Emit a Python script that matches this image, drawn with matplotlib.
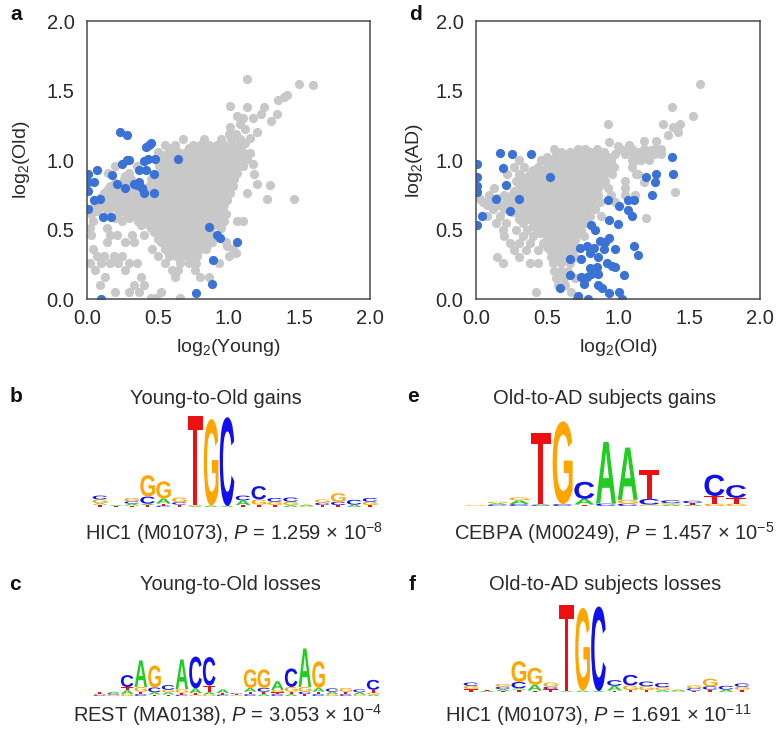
import matplotlib
matplotlib.use("Agg")
import matplotlib.pyplot as plt
from matplotlib.textpath import TextPath
from matplotlib.patches import PathPatch
from matplotlib.font_manager import FontProperties
from matplotlib.transforms import Affine2D

plt.rcParams['font.family'] = ['Liberation Sans', 'DejaVu Sans']
plt.rcParams['mathtext.fontset'] = 'custom'
plt.rcParams['mathtext.rm'] = 'Liberation Sans'
plt.rcParams['mathtext.it'] = 'Liberation Sans:italic'

# ---------------- scatter data ----------------
# grey cloud of panel a, as rows: (y, [x, ...])
grey_a_rows = [
    (1.19, [1.0, 1.05]),
    (1.15, [0.68, 0.83, 0.95, 1.02, 1.08]),
    (1.11, [0.55, 0.62, 0.75, 0.8, 0.86, 0.92, 0.97, 1.03, 1.08]),
    (1.085, [0.6, 0.72, 0.78, 0.83, 0.88, 0.94, 0.99, 1.05]),
    (1.06, [0.5, 0.58, 0.64, 0.7, 0.75, 0.81, 0.86, 0.91, 0.96, 1.01, 1.06, 1.1]),
    (1.035, [0.55, 0.6, 0.67, 0.72, 0.77, 0.83, 0.88, 0.93, 0.98, 1.03, 1.08]),
    (1.01, [0.52, 0.57, 0.62, 0.69, 0.74, 0.79, 0.84, 0.89, 0.94, 0.99, 1.04, 1.09, 1.13]),
    (0.985, [0.54, 0.59, 0.64, 0.69, 0.74, 0.79, 0.84, 0.89, 0.94, 0.99, 1.04, 1.08]),
    (0.96, [0.2, 0.35, 0.51, 0.56, 0.61, 0.66, 0.71, 0.76, 0.81, 0.86, 0.91, 0.96, 1.01, 1.06, 1.1]),
    (0.935, [0.54, 0.59, 0.64, 0.69, 0.74, 0.79, 0.84, 0.89, 0.94, 0.99, 1.04]),
    (0.91, [0.15, 0.3, 0.52, 0.57, 0.62, 0.67, 0.72, 0.77, 0.82, 0.87, 0.92, 0.97, 1.02, 1.06]),
    (0.885, [0.27, 0.47, 0.52, 0.57, 0.62, 0.67, 0.72, 0.77, 0.82, 0.87, 0.92, 0.97, 1.02]),
    (0.86, [0.26, 0.31, 0.45, 0.5, 0.55, 0.6, 0.65, 0.7, 0.75, 0.8, 0.85, 0.9, 0.95, 1.0, 1.04]),
    (0.835, [0.2, 0.27, 0.46, 0.51, 0.56, 0.61, 0.66, 0.71, 0.76, 0.81, 0.86, 0.91, 0.96, 1.01]),
    (0.81, [0.16, 0.24, 0.3, 0.44, 0.49, 0.54, 0.59, 0.64, 0.69, 0.74, 0.79, 0.84, 0.89, 0.94, 0.99, 1.03]),
    (0.785, [0.14, 0.2, 0.26, 0.32, 0.46, 0.5, 0.55, 0.6, 0.65, 0.7, 0.75, 0.8, 0.85, 0.9, 0.95, 1.0]),
    (0.76, [0.12, 0.18, 0.23, 0.28, 0.33, 0.36, 0.44, 0.52, 0.57, 0.62, 0.67, 0.72, 0.77, 0.82, 0.87,
            0.92, 0.97, 1.01]),
    (0.735, [0.1, 0.16, 0.21, 0.26, 0.31, 0.36, 0.41, 0.47, 0.52, 0.57, 0.62, 0.67, 0.72, 0.77, 0.82,
             0.87, 0.92, 0.97]),
    (0.71, [0.06, 0.14, 0.19, 0.24, 0.29, 0.34, 0.39, 0.44, 0.49, 0.54, 0.59, 0.64, 0.69, 0.74, 0.79,
            0.84, 0.89, 0.94, 0.99]),
    (0.685, [0.08, 0.13, 0.17, 0.22, 0.27, 0.32, 0.37, 0.42, 0.47, 0.52, 0.57, 0.62, 0.67, 0.72, 0.77,
             0.82, 0.87, 0.92, 0.97]),
    (0.66, [0.05, 0.1, 0.2, 0.25, 0.3, 0.35, 0.4, 0.45, 0.5, 0.55, 0.6, 0.65, 0.7, 0.75, 0.8, 0.85,
            0.9, 0.96]),
    (0.635, [0.07, 0.15, 0.24, 0.3, 0.35, 0.4, 0.45, 0.5, 0.55, 0.6, 0.65, 0.7, 0.75, 0.8, 0.85, 0.9,
             0.95]),
    (0.61, [0.03, 0.22, 0.28, 0.33, 0.38, 0.43, 0.48, 0.53, 0.58, 0.63, 0.68, 0.73, 0.78, 0.83, 0.88,
            0.93, 0.98]),
    (0.585, [0.2, 0.3, 0.35, 0.4, 0.45, 0.5, 0.55, 0.6, 0.65, 0.7, 0.75, 0.8, 0.85, 0.9, 0.95]),
    (0.56, [0.04, 0.25, 0.36, 0.42, 0.47, 0.52, 0.57, 0.62, 0.67, 0.72, 0.77, 0.82, 0.87, 0.92, 0.97]),
    (0.535, [0.38, 0.44, 0.49, 0.54, 0.59, 0.64, 0.69, 0.74, 0.79, 0.84, 0.9]),
    (0.51, [0.02, 0.14, 0.45, 0.5, 0.55, 0.6, 0.65, 0.7, 0.75, 0.8, 0.84, 0.95]),
    (0.485, [0.47, 0.52, 0.57, 0.62, 0.67, 0.72, 0.77, 0.82, 0.87]),
    (0.46, [0.03, 0.16, 0.21, 0.32, 0.4, 0.5, 0.55, 0.6, 0.65, 0.7, 0.75, 0.8, 0.86]),
    (0.435, [0.5, 0.55, 0.6, 0.65, 0.7, 0.75, 0.8, 0.85]),
    (0.41, [0.14, 0.27, 0.33, 0.52, 0.57, 0.62, 0.67, 0.72, 0.77, 0.82, 0.88, 0.98]),
    (0.385, [0.55, 0.6, 0.65, 0.7, 0.75, 0.8, 0.85]),
    (0.36, [0.04, 0.46, 0.55, 0.6, 0.65, 0.7, 0.75, 0.8, 0.84, 1.03]),
    (0.335, [0.57, 0.62, 0.67, 0.72, 0.77]),
    (0.31, [0.07, 0.12, 0.19, 0.25, 0.5, 0.58, 0.63, 0.68, 0.73, 0.78, 1.0]),
    (0.26, [0.02, 0.1, 0.16, 0.22, 0.3, 0.35, 0.55, 0.66, 0.72, 0.77, 0.93]),
    (0.21, [0.06, 0.27, 0.6, 0.64, 0.76]),
    (0.16, [0.13, 0.38, 0.62, 0.8, 0.86]),
    (0.10, [0.09, 0.33, 0.4]),
    (0.05, [0.2, 0.3, 0.37, 0.52]),
    (0.01, [0.45, 0.49, 0.66]),
]
grey_a_extra = [(1.13, 1.58), (1.5, 1.55), (1.6, 1.54), (1.41, 1.47), (1.35, 1.43), (1.39, 1.45),
                (1.01, 1.39), (1.13, 1.38), (1.25, 1.38), (1.34, 1.33), (1.06, 1.32), (1.17, 1.30),
                (1.08, 1.26), (1.01, 1.24), (1.2, 1.2), (1.12, 1.22), (1.15, 1.16), (1.1, 1.3),
                (1.23, 1.33), (1.3, 1.28), (1.17, 0.97), (1.18, 0.9), (1.2, 0.83), (1.29, 0.82),
                (1.27, 0.72), (1.46, 0.72), (1.13, 0.76), (1.15, 1.05), (1.12, 1.12), (1.06, 0.56),
                (1.1, 0.56), (0.99, 0.38), (1.05, 0.33)]
blue_a = [(0.23, 1.20), (0.28, 1.18), (0.42, 1.09), (0.44, 1.11), (0.45, 1.12), (0.28, 1.0),
          (0.25, 0.97), (0.3, 1.0), (0.40, 0.99), (0.43, 1.01), (0.48, 1.01), (0.64, 1.01),
          (0.37, 0.93), (0.42, 0.93), (0.47, 0.9), (0.07, 0.93), (0.01, 0.9), (0.01, 0.84),
          (0.05, 0.84), (0.01, 0.78), (0.18, 0.89), (0.21, 0.83), (0.27, 0.8), (0.33, 0.83),
          (0.35, 0.82), (0.37, 0.84), (0.39, 0.8), (0.4, 0.76), (0.47, 0.76), (0.05, 0.71),
          (0.09, 0.72), (0.01, 0.65), (0.11, 0.59), (0.17, 0.59), (0.86, 0.52), (0.92, 0.46),
          (0.94, 0.44), (1.06, 0.41), (0.89, 0.28), (0.88, 0.11), (0.77, 0.04), (0.1, 0.0)]

grey_d_rows = [
    (1.08, [0.55, 0.72, 0.77, 0.85, 1.02, 1.1, 1.18, 1.26]),
    (1.06, [0.6, 0.66, 0.8, 0.9, 1.06, 1.14, 1.22]),
    (1.04, [0.56, 0.62, 0.7, 0.75, 0.8, 0.85, 0.9, 0.98, 1.05, 1.12, 1.2, 1.25, 1.3]),
    (1.02, [0.5, 0.58, 0.63, 0.68, 0.73, 0.78, 0.83, 0.88, 0.93, 1.14, 1.2]),
    (1.00, [0.3, 0.46, 0.55, 0.6, 0.65, 0.7, 0.75, 0.8, 0.85, 0.9, 0.95, 1.1, 1.16, 1.22]),
    (0.975, [0.5, 0.55, 0.6, 0.65, 0.7, 0.75, 0.8, 0.85, 0.9, 0.95]),
    (0.95, [0.27, 0.34, 0.44, 0.52, 0.57, 0.62, 0.67, 0.72, 0.77, 0.82, 0.87, 0.92, 0.97, 1.1]),
    (0.925, [0.4, 0.48, 0.54, 0.59, 0.64, 0.69, 0.74, 0.79, 0.84, 0.89, 0.94]),
    (0.90, [0.22, 0.3, 0.38, 0.45, 0.5, 0.55, 0.6, 0.65, 0.7, 0.75, 0.8, 0.85, 0.9, 0.96, 1.14]),
    (0.875, [0.33, 0.42, 0.48, 0.53, 0.58, 0.63, 0.68, 0.73, 0.78, 0.83, 0.88]),
    (0.85, [0.28, 0.35, 0.41, 0.46, 0.51, 0.56, 0.61, 0.66, 0.71, 0.76, 0.81, 0.86, 0.91, 1.05]),
    (0.825, [0.33, 0.38, 0.43, 0.48, 0.53, 0.58, 0.63, 0.68, 0.73, 0.78, 0.83, 0.88]),
    (0.80, [0.13, 0.3, 0.36, 0.41, 0.46, 0.51, 0.56, 0.61, 0.66, 0.71, 0.76, 0.81, 0.86, 0.93]),
    (0.775, [0.27, 0.32, 0.38, 0.43, 0.48, 0.53, 0.58, 0.63, 0.68, 0.73, 0.78, 0.83]),
    (0.75, [0.09, 0.2, 0.25, 0.34, 0.4, 0.45, 0.5, 0.55, 0.6, 0.65, 0.7, 0.75, 0.8, 0.86, 0.95, 1.05]),
    (0.725, [0.15, 0.23, 0.28, 0.33, 0.38, 0.43, 0.48, 0.53, 0.58, 0.63, 0.68, 0.73, 0.78, 0.84]),
    (0.70, [0.05, 0.1, 0.21, 0.26, 0.31, 0.36, 0.41, 0.46, 0.51, 0.56, 0.61, 0.66, 0.71, 0.76, 0.81,
            0.87, 0.98]),
    (0.675, [0.08, 0.16, 0.24, 0.3, 0.35, 0.4, 0.45, 0.5, 0.55, 0.6, 0.65, 0.7, 0.75, 0.8]),
    (0.65, [0.12, 0.2, 0.28, 0.33, 0.38, 0.43, 0.48, 0.53, 0.58, 0.63, 0.68, 0.73, 0.78, 0.84]),
    (0.625, [0.25, 0.32, 0.37, 0.42, 0.47, 0.52, 0.57, 0.62, 0.67, 0.72, 0.77]),
    (0.60, [0.08, 0.17, 0.3, 0.35, 0.4, 0.45, 0.5, 0.55, 0.6, 0.65, 0.7, 0.75, 0.8, 0.88]),
    (0.575, [0.3, 0.37, 0.44, 0.49, 0.54, 0.59, 0.64, 0.69, 0.74]),
    (0.55, [0.14, 0.21, 0.33, 0.42, 0.47, 0.52, 0.57, 0.62, 0.67, 0.72, 0.77]),
    (0.525, [0.4, 0.46, 0.51, 0.56, 0.61, 0.66, 0.71]),
    (0.50, [0.19, 0.28, 0.36, 0.43, 0.49, 0.54, 0.59, 0.64, 0.69, 0.74]),
    (0.475, [0.45, 0.52, 0.57, 0.62, 0.67, 0.72]),
    (0.45, [0.2, 0.33, 0.4, 0.5, 0.55, 0.6, 0.65, 0.7, 0.76]),
    (0.425, [0.5, 0.55, 0.6, 0.65, 0.7]),
    (0.40, [0.24, 0.3, 0.38, 0.47, 0.53, 0.58, 0.63, 0.68]),
    (0.375, [0.5, 0.55, 0.6, 0.65]),
    (0.35, [0.27, 0.35, 0.44, 0.52, 0.57, 0.62, 0.68]),
    (0.325, [0.55, 0.6, 0.65]),
    (0.30, [0.15, 0.3, 0.53, 0.58, 0.63, 0.7]),
    (0.28, [0.56, 0.62]),
    (0.26, [0.19, 0.38, 0.44, 0.54, 0.6, 0.66]),
    (0.20, [0.55, 0.6, 0.65]),
    (0.15, [0.56, 0.62, 0.7]),
    (0.10, [0.58, 0.63]),
    (0.05, [0.42, 0.67]),
]
grey_d_extra = [(0.93, 1.26), (0.94, 1.13), (1.08, 1.11), (1.18, 1.14), (1.27, 1.14), (1.32, 1.26),
                (1.39, 1.24), (1.44, 1.26), (1.38, 1.38), (1.53, 1.32), (1.58, 1.55), (1.3, 1.08),
                (1.23, 1.07), (1.18, 1.02), (1.13, 1.0), (1.35, 1.18), (1.0, 1.1), (1.42, 1.2),
                (1.40, 0.77), (1.2, 0.58), (1.18, 0.84), (1.13, 0.9), (1.05, 0.8), (1.12, 0.75),
                (0.03, 0.72)]
blue_d = [(0.17, 1.05), (0.25, 1.04), (0.39, 1.04), (0.01, 0.97), (0.01, 0.88), (0.01, 0.81),
          (0.01, 0.77), (0.19, 0.94), (0.21, 0.82), (0.14, 0.72), (0.30, 0.72), (0.24, 0.63),
          (0.04, 0.6), (0.01, 0.53), (0.52, 0.88), (1.38, 1.02), (1.39, 0.9), (1.27, 0.9),
          (1.2, 0.88), (1.26, 0.84), (1.24, 0.75), (0.93, 0.71), (1.07, 0.71), (1.11, 0.71),
          (1.01, 0.67), (1.07, 0.64), (1.1, 0.6), (0.94, 0.57), (1.0, 0.54), (0.81, 0.53),
          (0.84, 0.5), (0.87, 0.42), (0.91, 0.41), (0.94, 0.44), (0.73, 0.37), (0.78, 0.38),
          (0.83, 0.37), (0.8, 0.33), (0.9, 0.36), (0.98, 0.36), (1.11, 0.38), (1.14, 0.32),
          (0.66, 0.29), (0.74, 0.29), (0.86, 0.30), (0.92, 0.26), (0.96, 0.24), (0.98, 0.23),
          (0.8, 0.22), (0.85, 0.23), (0.66, 0.17), (0.74, 0.16), (0.78, 0.16), (0.81, 0.18),
          (0.86, 0.18), (1.04, 0.17), (0.59, 0.08), (0.76, 0.11), (0.86, 0.1), (0.89, 0.08),
          (0.94, 0.04), (1.01, 0.05), (0.71, 0.0), (0.79, 0.0), (1.03, 0.0), (0.72, 0.02)]

ticks = [0.0, 0.5, 1.0, 1.5, 2.0]

# ---------------- logo data: columns, letters bottom-up (letter, bits) ----------------
logo_b = [
    [('T', 0.05), ('A', 0.03), ('G', 0.08), ('C', 0.08)],
    [('T', 0.02), ('A', 0.02)],
    [('T', 0.03), ('A', 0.04), ('C', 0.05), ('G', 0.07)],
    [('T', 0.04), ('A', 0.03), ('C', 0.15), ('G', 0.45)],
    [('C', 0.03), ('T', 0.04), ('A', 0.11), ('G', 0.36)],
    [('T', 0.05), ('C', 0.05), ('G', 0.1)],
    [('A', 0.02), ('G', 0.02), ('T', 1.88)],
    [('A', 0.03), ('G', 1.82)],
    [('A', 0.02), ('C', 1.87)],
    [('T', 0.04), ('A', 0.1), ('C', 0.1)],
    [('T', 0.05), ('G', 0.11), ('C', 0.28)],
    [('T', 0.04), ('G', 0.07), ('C', 0.08)],
    [('A', 0.04), ('G', 0.07), ('C', 0.09)],
    [('G', 0.02), ('A', 0.03)],
    [('T', 0.04), ('C', 0.05), ('G', 0.07)],
    [('T', 0.04), ('C', 0.07), ('G', 0.18)],
    [('A', 0.05), ('C', 0.1)],
    [('T', 0.04), ('G', 0.07), ('C', 0.08)],
]
logo_c = [
    [('C', 0.02), ('G', 0.03), ('T', 0.03)],
    [('G', 0.03), ('C', 0.03), ('A', 0.03)],
    [('G', 0.04), ('A', 0.08), ('T', 0.07), ('C', 0.25)],
    [('C', 0.04), ('T', 0.05), ('G', 0.1), ('A', 0.56)],
    [('T', 0.03), ('A', 0.05), ('C', 0.1), ('G', 0.46)],
    [('T', 0.03), ('A', 0.05), ('G', 0.05), ('C', 0.1)],
    [('C', 0.03), ('T', 0.04), ('G', 0.07), ('A', 0.63)],
    [('G', 0.03), ('T', 0.03), ('A', 0.1), ('C', 0.67)],
    [('G', 0.03), ('A', 0.05), ('T', 0.14), ('C', 0.6)],
    [('C', 0.03), ('T', 0.03), ('A', 0.08)],
    [('G', 0.02), ('T', 0.02), ('C', 0.02)],
    [('C', 0.04), ('T', 0.05), ('A', 0.08), ('G', 0.39)],
    [('A', 0.04), ('T', 0.05), ('C', 0.08), ('G', 0.39)],
    [('C', 0.04), ('T', 0.04), ('G', 0.05), ('A', 0.18)],
    [('A', 0.04), ('T', 0.05), ('G', 0.1), ('C', 0.39)],
    [('T', 0.04), ('C', 0.05), ('G', 0.1), ('A', 0.81)],
    [('C', 0.04), ('T', 0.05), ('A', 0.08), ('G', 0.56)],
    [('G', 0.04), ('A', 0.05), ('C', 0.07)],
    [('C', 0.04), ('T', 0.05), ('G', 0.08)],
    [('G', 0.03), ('A', 0.05), ('C', 0.06)],
    [('A', 0.03), ('G', 0.04), ('T', 0.06), ('C', 0.21)],
]
logo_e = [
    [('G', 0.02)],
    [('C', 0.03), ('A', 0.03), ('G', 0.03)],
    [('C', 0.04), ('A', 0.08), ('G', 0.06)],
    [('C', 0.02), ('A', 0.02), ('T', 1.5)],
    [('C', 0.04), ('G', 1.74)],
    [('T', 0.03), ('A', 0.12), ('C', 0.36)],
    [('C', 0.05), ('A', 1.3)],
    [('C', 0.05), ('G', 0.08), ('A', 1.1)],
    [('G', 0.03), ('C', 0.12), ('T', 0.6)],
    [('A', 0.03), ('G', 0.03), ('C', 0.06)],
    [('A', 0.03), ('T', 0.03), ('C', 0.05)],
    [('G', 0.05), ('T', 0.16), ('C', 0.45)],
    [('G', 0.05), ('T', 0.12), ('C', 0.27)],
]
logo_f = [
    [('T', 0.06), ('G', 0.07), ('C', 0.07)],
    [('A', 0.03), ('T', 0.02)],
    [('T', 0.02), ('A', 0.04), ('C', 0.05), ('G', 0.06)],
    [('T', 0.05), ('A', 0.03), ('C', 0.13), ('G', 0.44)],
    [('T', 0.03), ('A', 0.12), ('G', 0.36)],
    [('T', 0.06), ('C', 0.05), ('G', 0.09)],
    [('A', 0.02), ('T', 1.82)],
    [('A', 0.03), ('G', 1.74)],
    [('A', 0.02), ('C', 1.78)],
    [('T', 0.03), ('A', 0.1), ('C', 0.12)],
    [('T', 0.04), ('G', 0.1), ('C', 0.22)],
    [('T', 0.04), ('G', 0.08), ('C', 0.1)],
    [('A', 0.04), ('G', 0.06), ('C', 0.09)],
    [('G', 0.02), ('A', 0.03)],
    [('T', 0.03), ('C', 0.05), ('G', 0.06)],
    [('T', 0.05), ('C', 0.07), ('G', 0.16)],
    [('A', 0.05), ('C', 0.08)],
    [('T', 0.05), ('G', 0.06), ('C', 0.07)],
]

GREY = '#c8c8c8'
BLUE = '#3a72d5'
LETTER_COLORS = {'A': '#22cc22', 'C': '#1010ee', 'G': '#ffa500', 'T': '#ee1010'}
TEXT = '#2a2a2a'

W, H = 778, 733
fig = plt.figure(figsize=(W / 100, H / 100), dpi=100)


def box(x0, y0, x1, y1):
    # pixel box (y measured from the top) -> figure fraction rect
    return [x0 / W, 1 - y1 / H, (x1 - x0) / W, (y1 - y0) / H]


def ftext(x, y, s, **kw):
    fig.text(x / W, 1 - y / H, s, ha=kw.pop('ha', 'center'), va=kw.pop('va', 'center'), **kw)


def scatter_panel(rect, rows, extra, blue, xlabel, ylabel, ylab_x):
    ax = fig.add_axes(rect)
    gx = [x for y, xs in rows for x in xs] + [p[0] for p in extra]
    gy = [y for y, xs in rows for x in xs] + [p[1] for p in extra]
    ax.scatter(gx, gy, s=44, c=GREY, linewidths=0)
    ax.scatter([p[0] for p in blue], [p[1] for p in blue], s=44, c=BLUE, linewidths=0)
    ax.set_xlim(0, 2)
    ax.set_ylim(0, 2)
    ax.set_xticks(ticks)
    ax.set_yticks(ticks)
    ax.tick_params(length=0, labelsize=14.5, labelcolor=TEXT)
    ax.tick_params(axis='x', pad=7)
    ax.tick_params(axis='y', pad=9)
    for sp in ax.spines.values():
        sp.set_color('#4a4a4a')
        sp.set_linewidth(1.1)
    ax.set_xlabel(xlabel, fontsize=14, color=TEXT, va='center')
    ax.set_ylabel(ylabel, fontsize=14, color=TEXT, va='center')
    ax.xaxis.set_label_coords(0.5, -0.173)
    ax.yaxis.set_label_coords(ylab_x, 0.5)
    return ax


def draw_logo(x0, x1, base, cols):
    ax = fig.add_axes(box(x0, base - 95, x1, base))
    ax.set_xlim(0, len(cols))
    ax.set_ylim(0, 2)
    ax.axis('off')
    prop = FontProperties(family='Liberation Sans', weight='bold')
    for i, col in enumerate(cols):
        y = 0.0
        for letter, h in col:
            tp = TextPath((0, 0), letter, size=1, prop=prop)
            bb = tp.get_extents()
            tr = (Affine2D().translate(-bb.x0, -bb.y0)
                  .scale(0.92 / bb.width, h / bb.height)
                  .translate(i + 0.04, y))
            ax.add_patch(PathPatch(tr.transform_path(tp), fc=LETTER_COLORS[letter],
                                   ec='none'))
            y += h
    return ax


scatter_panel(box(87, 21, 370, 299), grey_a_rows, grey_a_extra, blue_a,
              r'log$_2$(Young)', r'log$_2$(Old)', -0.23)
scatter_panel(box(476, 21, 760, 299), grey_d_rows, grey_d_extra, blue_d,
              r'log$_2$(Old)', r'log$_2$(AD)', -0.215)

draw_logo(92, 378, 507, logo_b)
draw_logo(93, 380, 696, logo_c)
draw_logo(465, 747, 506, logo_e)
draw_logo(463, 750, 692, logo_f)

# panel letters
for lab, x, y in [('a', 16, 15), ('d', 415, 15), ('b', 16, 397), ('e', 413, 397),
                  ('c', 15, 585), ('f', 412, 585)]:
    ftext(x, y, lab, fontsize=15, fontweight='bold', color='#111111')

# logo titles
ftext(216, 398, 'Young-to-Old gains', fontsize=14.5, color=TEXT)
ftext(605, 398, 'Old-to-AD subjects gains', fontsize=14.5, color=TEXT)
ftext(230, 585, 'Young-to-Old losses', fontsize=14.5, color=TEXT)
ftext(605, 585, 'Old-to-AD subjects losses', fontsize=14.5, color=TEXT)

# captions
ftext(234, 533, r'HIC1 (M01073), $P$ = 1.259 × 10$^{-8}$', fontsize=14.5, color=TEXT)
ftext(614, 533, r'CEBPA (M00249), $P$ = 1.457 × 10$^{-5}$', fontsize=14.5, color=TEXT)
ftext(227, 715, r'REST (MA0138), $P$ = 3.053 × 10$^{-4}$', fontsize=14.5, color=TEXT)
ftext(598, 715, r'HIC1 (M01073), $P$ = 1.691 × 10$^{-11}$', fontsize=14.5, color=TEXT)

fig.savefig('out.png', dpi=100)
